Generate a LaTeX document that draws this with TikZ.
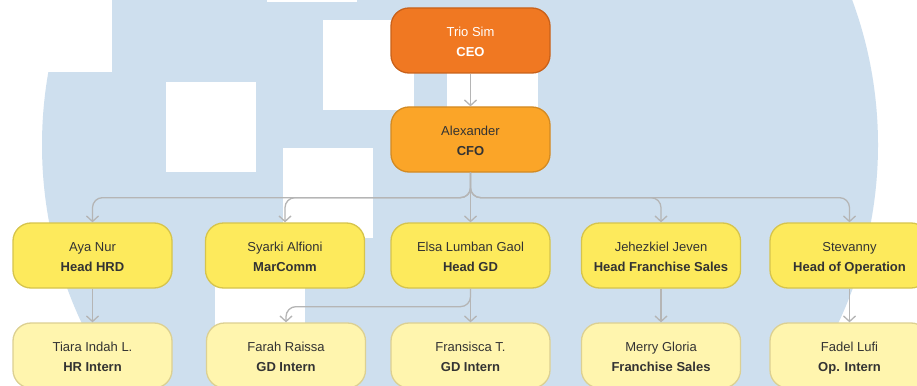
\documentclass[tikz,border=0pt]{standalone}
\usepackage{fontspec}
\setmainfont{Liberation Sans}
\usetikzlibrary{arrows.meta}
\definecolor{bgblue}{HTML}{CEDFEE}
\definecolor{ceofill}{HTML}{F07822}
\definecolor{ceoline}{HTML}{C9611A}
\definecolor{cfofill}{HTML}{FBA528}
\definecolor{cfoline}{HTML}{D38A22}
\definecolor{lvtwofill}{HTML}{FDEA5C}
\definecolor{lvtwoline}{HTML}{D6C44C}
\definecolor{lvthreefill}{HTML}{FFF5AE}
\definecolor{lvthreeline}{HTML}{DCD092}
\definecolor{connline}{HTML}{B5B5B5}
\definecolor{txtdark}{HTML}{333333}
\newcommand\mylowstrut{\rule[-2.15pt]{0pt}{10pt}}
\tikzset{
  person/.style={rounded corners=18pt, minimum width=159pt, minimum height=65pt,
    inner sep=0pt, line width=1.3pt, align=center, text=txtdark,
    font=\fontsize{13}{20.5}\selectfont},
  ceobox/.style={person, fill=ceofill, draw=ceoline, text=white},
  cfobox/.style={person, fill=cfofill, draw=cfoline},
  headbox/.style={person, fill=lvtwofill, draw=lvtwoline},
  internbox/.style={person, fill=lvthreefill, draw=lvthreeline},
  conn/.style={draw=connline, line width=1.3pt, -{Straight Barb[length=5.5pt,width=12pt]}},
  bgsq/.style={fill=white}
}
\begin{document}
\begin{tikzpicture}[x=1pt,y=-1pt]
\useasboundingbox (0,0) rectangle (917,385);
\fill[white] (0,0) rectangle (917,385);
\begin{scope}
\clip (0,0) rectangle (917,385);
\fill[bgblue] (460,145) circle (418pt);
\fill[bgsq] (0,0) rectangle (112,72);
\fill[bgsq] (267,-5) rectangle (357,2);
\fill[bgsq] (166,82) rectangle (256,172);
\fill[bgsq] (323,20) rectangle (414,110);
\fill[bgsq] (447,20) rectangle (538,110);
\fill[bgsq] (283,148) rectangle (373,238);
\fill[bgsq] (215,250) rectangle (305,390);
\end{scope}

\node[ceobox] (ceo) at (470.5,40.5) {Trio Sim\strut\\\textbf{CEO}\mylowstrut};
\node[cfobox] (cfo) at (470.5,139.5) {Alexander\strut\\\textbf{CFO}\mylowstrut};

\node[headbox] (aya) at (92.5,255.5) {Aya Nur\strut\\\textbf{Head HRD}\mylowstrut};
\node[headbox] (syarki) at (285,255.5) {Syarki Alfioni\strut\\\textbf{MarComm}\mylowstrut};
\node[headbox] (elsa) at (470.5,255.5) {Elsa Lumban Gaol\strut\\\textbf{Head GD}\mylowstrut};
\node[headbox] (jeh) at (661,255.5) {Jehezkiel Jeven\strut\\\textbf{Head Franchise Sales}\mylowstrut};
\node[headbox] (stev) at (849.5,255.5) {Stevanny\strut\\\textbf{Head of Operation}\mylowstrut};

\node[internbox] (tiara) at (92.5,355.5) {Tiara Indah L.\strut\\\textbf{HR Intern}\mylowstrut};
\node[internbox] (farah) at (286,355.5) {Farah Raissa\strut\\\textbf{GD Intern}\mylowstrut};
\node[internbox] (fran) at (470.5,355.5) {Fransisca T.\strut\\\textbf{GD Intern}\mylowstrut};
\node[internbox] (merry) at (661,355.5) {Merry Gloria\strut\\\textbf{Franchise Sales}\mylowstrut};
\node[internbox] (fadel) at (849.5,355.5) {Fadel Lufi\strut\\\textbf{Op. Intern}\mylowstrut};

\draw[conn] (ceo) -- (cfo);
\draw[conn, rounded corners=10pt] (cfo.south) -- ++(0,25) -| (aya.north);
\draw[conn, rounded corners=10pt] (cfo.south) -- ++(0,25) -| (syarki.north);
\draw[conn] (cfo.south) -- (elsa.north);
\draw[conn, rounded corners=10pt] (cfo.south) -- ++(0,25) -| (jeh.north);
\draw[conn, rounded corners=10pt] (cfo.south) -- ++(0,25) -| (stev.north);

\draw[conn] (aya) -- (tiara);
\draw[conn, rounded corners=10pt] (elsa.south) -- ++(0,18) -| (farah.north);
\draw[conn] (elsa) -- (fran);
\draw[conn] (jeh) -- (merry);
\draw[conn] (stev) -- (fadel);
\end{tikzpicture}
\end{document}
